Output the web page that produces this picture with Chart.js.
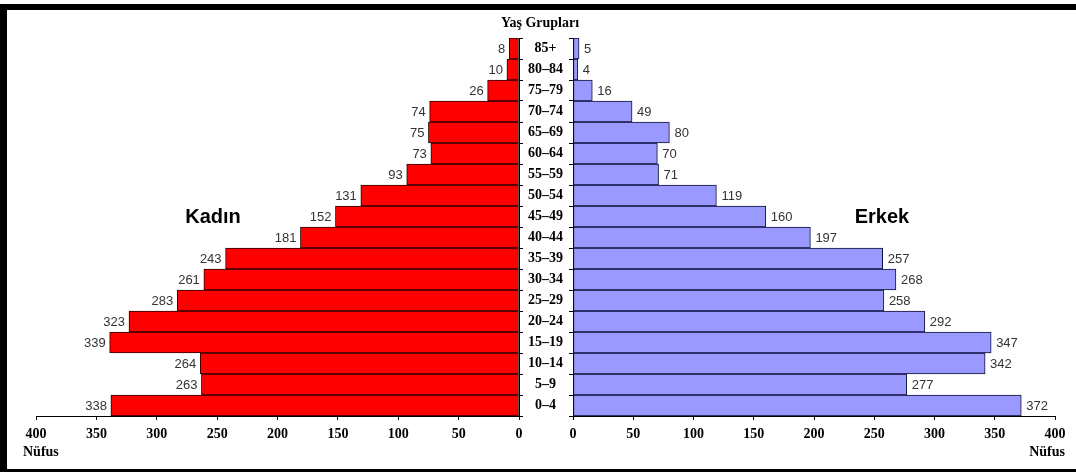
<!DOCTYPE html>
<html>
<head>
<meta charset="utf-8">
<script src="https://cdn.jsdelivr.net/npm/chart.js@4/dist/chart.umd.min.js"></script>
<style>
    html, body { margin: 0; padding: 0; background: #fff; overflow: hidden; }
    body { width: 1076px; height: 472px; position: relative; }
    .frame { position: absolute; left: 0; top: 4px; width: 1100px; height: 459px; border-left: 7px solid #000; border-top: 6px solid #000; border-bottom: 8px solid #000; box-sizing: content-box; }
    .box { position: absolute; top: 0; height: 472px; }
    .txt { position: absolute; transform: translate(-50%, -50%); line-height: 1; white-space: nowrap; color: #000; }
    .serif { font-family: "Liberation Serif", "Times New Roman", serif; font-weight: bold; font-size: 14px; }
    .sans { font-family: "Liberation Sans", Arial, sans-serif; font-weight: bold; font-size: 20px; }
</style>
</head>
<body>
<div class="box" style="left:0;width:530px"><canvas id="leftChart"></canvas></div>
<div class="box" style="left:519px;width:557px"><canvas id="rightChart"></canvas></div>
<div class="frame"></div>
<div class="txt serif" style="left:540px;top:23px">Yaş Grupları</div>
<div class="txt sans" style="left:213px;top:216px">Kadın</div>
<div class="txt sans" style="left:882px;top:216px">Erkek</div>
<div class="txt serif" style="left:23px;top:452px;transform:translate(0,-50%)">Nüfus</div>
<div class="txt serif" style="left:1065px;top:452px;transform:translate(-100%,-50%)">Nüfus</div>
<script>
// age groups, bottom to top
const ageGroups = ['0–4', '5–9', '10–14', '15–19', '20–24', '25–29', '30–34', '35–39', '40–44',
    '45–49', '50–54', '55–59', '60–64', '65–69', '70–74', '75–79', '80–84', '85+'];
const kadin = [338, 263, 264, 339, 323, 283, 261, 243, 181, 152, 131, 93, 73, 75, 74, 26, 10, 8];
const erkek = [372, 277, 342, 347, 292, 258, 268, 257, 197, 160, 119, 71, 70, 80, 49, 16, 4, 5];
const axisMax = 400;
const axisStep = 50;

const serifBold = { family: '"Liberation Serif", "Times New Roman", serif', size: 14, weight: 'bold' };

// value labels at the end of each bar
const valueLabels = {
    id: 'valueLabels',
    afterDatasetsDraw(chart, args, opts) {
        var ctx = chart.ctx;
        var meta = chart.getDatasetMeta(0);
        var values = chart.data.datasets[0].data;
        ctx.save();
        ctx.font = '13px "Liberation Sans", Arial, sans-serif';
        ctx.fillStyle = '#333';
        ctx.textBaseline = 'middle';
        ctx.textAlign = opts.side === 'left' ? 'right' : 'left';
        meta.data.forEach(function (bar, i) {
            var x = opts.side === 'left' ? bar.x - 4 : bar.x + 5;
            ctx.fillText(String(values[i]), x, bar.y + 1);
        });
        ctx.restore();
    }
};

function xScale(reverse) {
    return {
        min: 0,
        max: axisMax,
        reverse: reverse,
        afterFit: function (s) { s.height = 30; },
        border: { display: true, color: '#000', width: 1 },
        grid: { drawOnChartArea: false, tickLength: 4, color: '#000' },
        ticks: { stepSize: axisStep, padding: 6, color: '#000', font: serifBold, maxRotation: 0 }
    };
}

new Chart(document.getElementById('leftChart'), {
    type: 'bar',
    data: {
        labels: ageGroups,
        datasets: [{
            label: 'Kadın',
            data: kadin,
            backgroundColor: '#ff0000',
            borderColor: '#2a0000',
            borderWidth: 1,
            borderSkipped: false,
            categoryPercentage: 1,
            barPercentage: 1
        }]
    },
    options: {
        indexAxis: 'y',
        responsive: true,
        maintainAspectRatio: false,
        animation: false,
        layout: { padding: { left: 36, right: 0, top: 38, bottom: 26 } },
        plugins: { legend: { display: false }, tooltip: { enabled: false }, valueLabels: { side: 'left' } },
        scales: {
            x: xScale(true),
            y: {
                position: 'right',
                reverse: true,
                afterFit: function (s) { s.width = 11; },
                border: { display: true, color: '#000' },
                grid: { drawOnChartArea: false, tickLength: 4, color: '#000' },
                ticks: { display: false }
            }
        }
    },
    plugins: [valueLabels]
});

new Chart(document.getElementById('rightChart'), {
    type: 'bar',
    data: {
        labels: ageGroups,
        datasets: [{
            label: 'Erkek',
            data: erkek,
            backgroundColor: '#9999ff',
            borderColor: '#10103a',
            borderWidth: 1,
            borderSkipped: false,
            categoryPercentage: 1,
            barPercentage: 1
        }]
    },
    options: {
        indexAxis: 'y',
        responsive: true,
        maintainAspectRatio: false,
        animation: false,
        layout: { padding: { left: 0, right: 21, top: 38, bottom: 26 } },
        plugins: { legend: { display: false }, tooltip: { enabled: false }, valueLabels: { side: 'right' } },
        scales: {
            x: xScale(false),
            y: {
                position: 'left',
                reverse: true,
                afterFit: function (s) { s.width = 54; },
                border: { display: true, color: '#000' },
                grid: { drawOnChartArea: false, tickLength: 4, color: '#000' },
                ticks: { crossAlign: 'center', padding: 6, color: '#000', font: serifBold, autoSkip: false }
            }
        }
    },
    plugins: [valueLabels]
});
</script>
</body>
</html>
